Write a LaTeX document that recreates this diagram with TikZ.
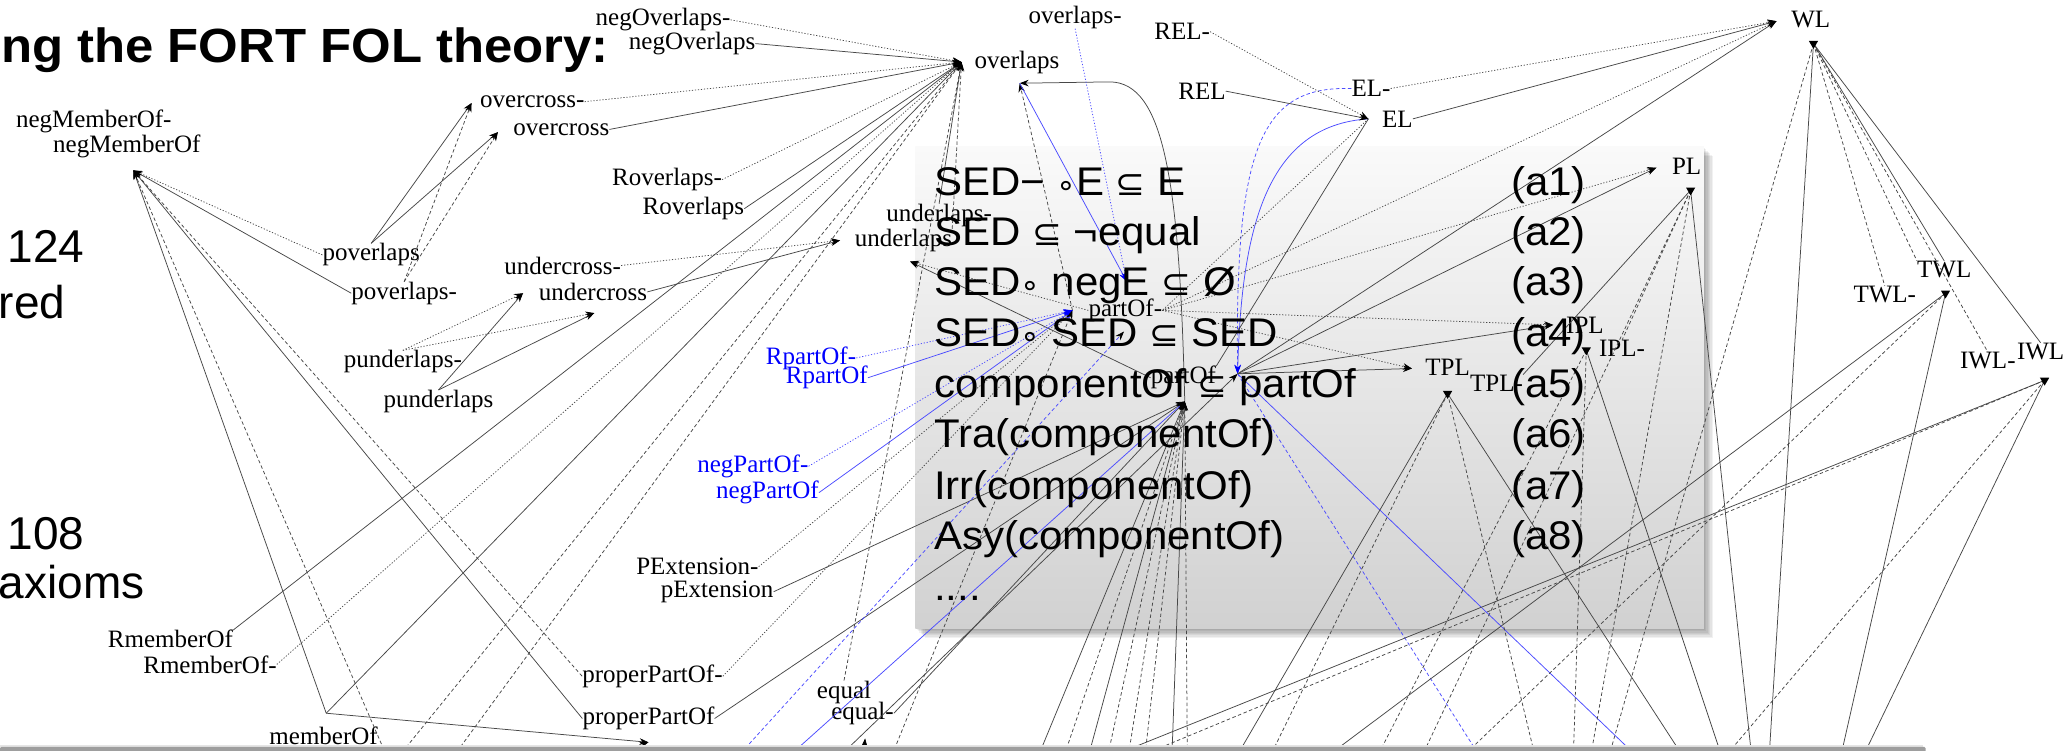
\documentclass[tikz,border=0pt]{standalone}
\usepackage{fontspec}
\setmainfont{Liberation Serif}
\newfontfamily\slidesans{Liberation Sans}
\newfontfamily\symsans{DejaVu Sans}
\usepackage{graphicx}
\usetikzlibrary{arrows.meta}

\newcommand\glabelsize{\fontsize{25}{27}\selectfont}
\newcommand\boxsize{\slidesans\fontsize{40}{44}\selectfont}
\newcommand\hstretch[2]{\scalebox{#1}[1]{#2}}
\newcommand\rel{{\symsans\fontsize{34}{40}\selectfont ⊆}}
\newcommand\comp{{\symsans\fontsize{30}{40}\selectfont ∘}}

\tikzset{
  lbl/.style={font=\glabelsize, inner sep=0pt, text=black},
  blbl/.style={lbl, text=blue},
  lnS/.style={draw=black!72, line width=0.75pt},
  lnD/.style={lnS, dash pattern=on 3.5pt off 2.5pt},
  lnT/.style={lnS, dash pattern=on 1.2pt off 1.8pt},
  blS/.style={draw=blue!70, line width=0.75pt},
  blD/.style={blS, dash pattern=on 3.5pt off 2.5pt},
  blT/.style={blS, dash pattern=on 1.2pt off 1.8pt},
  arr/.style={-{Stealth[length=9pt,width=6.5pt,color=black]}},
  barr/.style={-{Stealth[length=9pt,width=6.5pt,color=blue]}},
  axiom/.style={font=\boxsize, inner sep=0pt, anchor=base west},
  slidetext/.style={font=\slidesans\fontsize{46}{50}\selectfont, inner sep=0pt},
}

\begin{document}
\begin{tikzpicture}[x=1.3208pt, y=-1.3208pt]
\useasboundingbox (0,0) rectangle (1568,568);
\fill[white] (0,0) rectangle (1568,568);

% ---------- axiom panel (background, soft shadow) ----------
\foreach \d in {1,...,7}
  \fill[black, opacity=0.055] (693+\d,111+\d) rectangle (1290+\d,476+\d);
\shade[top color=black!2, middle color=black!6, bottom color=black!18] (693,111) rectangle (1290,476);

% ---------- slide text ----------
\node[font=\slidesans\bfseries\fontsize{48}{50}\selectfont, anchor=base east, inner sep=0pt]
  (title) at (461,47) {\hstretch{1.06}{ng the FORT FOL theory:}};
\node[slidetext, anchor=base east] (n124) at (64,199) {124};
\node[slidetext, anchor=base west] (nred) at (-1,241) {red};
\node[slidetext, anchor=base east] (n108) at (64,416) {108};
\node[slidetext, anchor=base west] (naxioms) at (-1,453) {axioms};

% ---------- graph: arrow tips / junction points ----------
\coordinate (nMO)  at (101,129);
\coordinate (MOv)  at (247,540);
\coordinate (ppO)  at (491,562);
\coordinate (OV)   at (728,47);
\coordinate (OV2)  at (772,63);
\coordinate (B1)   at (853,213);
\coordinate (POm)  at (812,235);
\coordinate (POv)  at (897,304);
\coordinate (CO)   at (937,283);
\coordinate (SEDa) at (851,251);
\coordinate (ULa)  at (636,182);
\coordinate (ULb)  at (689,198);
\coordinate (OCa)  at (357,78);
\coordinate (OCb)  at (377,100);
\coordinate (UCa)  at (396,222);
\coordinate (UCb)  at (450,237);
\coordinate (EQa)  at (655,559);
\coordinate (ELa)  at (1036,90);
\coordinate (WLa)  at (1345,16);
\coordinate (WLv)  at (1373,33);
\coordinate (PLa)  at (1254,127);
\coordinate (PLv)  at (1280,144);
\coordinate (IPLa) at (1176,246);
\coordinate (IPLv) at (1201,265);
\coordinate (TPLa) at (1069,279);
\coordinate (TPLv) at (1096,298);
\coordinate (TWLv) at (1473,222);
\coordinate (IWLv) at (1548,288);
\coordinate (bpp)  at (452,574);
\coordinate (beq)  at (653,582);

% ---------- graph: relation labels ----------
\node[lbl] (negOverlapsM) at (502,15) {negOverlaps-};
\node[lbl] (negOverlaps) at (524,33) {negOverlaps};
\node[lbl] (overcrossM) at (403,77) {overcross-};
\node[lbl] (overcross) at (425,98) {overcross};
\node[lbl] (negMemberOfM) at (71,92) {negMemberOf-};
\node[lbl] (negMemberOf) at (96,111) {negMemberOf};
\node[lbl] (poverlaps) at (281,193) {poverlaps};
\node[lbl] (poverlapsM) at (306,222) {poverlaps-};
\node[lbl] (punderlapsM) at (305,274) {punderlaps-};
\node[lbl] (punderlaps) at (332,304) {punderlaps};
\node[lbl] (undercrossM) at (426,201) {undercross-};
\node[lbl] (undercross) at (449,221) {undercross};
\node[lbl] (RoverlapsM) at (505,136) {Roverlaps-};
\node[lbl] (Roverlaps) at (525,158) {Roverlaps};
\node[lbl] (underlapsM) at (711,163) {underlaps-};
\node[lbl] (underlaps) at (684,182) {underlaps};
\node[blbl] (RpartOfM) at (614,271) {RpartOf-};
\node[blbl] (RpartOf) at (626,286) {RpartOf};
\node[blbl] (negPartOfM) at (570,353) {negPartOf-};
\node[blbl] (negPartOf) at (581,373) {negPartOf};
\node[lbl] (PExtensionM) at (528,429) {PExtension-};
\node[lbl] (pExtension) at (543,448) {pExtension};
\node[lbl] (properPartOfM) at (494,512) {properPartOf-};
\node[lbl] (properPartOf) at (491,544) {properPartOf};
\node[lbl] (equal) at (639,524) {equal};
\node[lbl] (equalM) at (653,540) {equal-};
\node[lbl] (memberOf) at (245,557) {memberOf};
\node[lbl] (RmemberOf) at (129,484) {RmemberOf};
\node[lbl] (RmemberOfM) at (159,503) {RmemberOf-};
\node[lbl] (overlaps) at (770,47) {overlaps};
\node[lbl] (overlapsM) at (814,13) {overlaps-};
\node[lbl] (RELM) at (895,24) {REL-};
\node[lbl] (REL) at (910,69) {REL};
\node[lbl] (ELM) at (1038,67) {EL-};
\node[lbl] (EL) at (1058,90) {EL};
\node[lbl] (WL) at (1371,15) {WL};
\node[lbl] (PL) at (1277,126) {PL};
\node[lbl] (IPL) at (1200,246) {IPL};
\node[lbl] (IPLM) at (1228,264) {IPL-};
\node[lbl] (TPL) at (1096,278) {TPL};
\node[lbl] (TPLM) at (1133,290) {TPL-};
\node[lbl] (TWL) at (1472,204) {TWL};
\node[lbl] (TWLM) at (1427,223) {TWL-};
\node[lbl] (IWLM) at (1505,273) {IWL-};
\node[lbl] (IWL) at (1545,266) {IWL};
\node[lbl] (partOfM) at (852,235) {partOf-};
\node[lbl] (partOf) at (896,286) {partOf};

% ---------- edges into overlaps ----------
\draw[lnT,arr] (negOverlapsM.east) -- (OV);
\draw[lnS,arr] (negOverlaps.east) -- (OV);
\draw[lnT,arr] (overcrossM.east) -- (OV);
\draw[lnS,arr] (overcross.east) -- (OV);
\draw[lnT,arr] (RoverlapsM.east) -- (OV);
\draw[lnS,arr] (Roverlaps.east) -- (OV);
\draw[lnS,arr] (RmemberOf.north east) -- (OV);
\draw[lnT,arr] (RmemberOfM.east) -- (OV);
\draw[lnS,arr] (MOv) -- (OV);
\draw[lnS,arr] (underlapsM.north) -- (OV);
\draw[lnD,arr] (underlaps.north east) -- (OV);
\draw[lnD,arr] (equal.north) -- (OV);

% ---------- edges into negMemberOf ----------
\draw[lnT,arr] (poverlaps.west) -- (nMO);
\draw[lnS,arr] (poverlapsM.west) -- (nMO);
\draw[lnS,arr] (MOv) -- (nMO);
\draw[lnS,arr] (properPartOf.west) -- (nMO);
\draw[lnD,arr] (properPartOfM.west) -- (nMO);

% ---------- overcross / undercross / underlaps ----------
\draw[lnS,arr] (poverlaps.north) -- (OCa);
\draw[lnS,arr] (poverlaps.north) -- (OCb);
\draw[lnD,arr] (poverlapsM.north) -- (OCa);
\draw[lnD,arr] (poverlapsM.north) -- (OCb);
\draw[lnS,arr] (punderlaps.north) -- (UCa);
\draw[lnS,arr] (punderlaps.north) -- (UCb);
\draw[lnT,arr] (punderlapsM.north) -- (UCa);
\draw[lnT,arr] (punderlapsM.north) -- (UCb);
\draw[lnT,arr] (undercrossM.east) -- (ULa);
\draw[lnS,arr] (undercross.east) -- (ULa);
\draw[lnS,arr] (partOf.west) -- (ULb);
\draw[lnT,arr] (partOfM.west) -- (ULb);

% ---------- memberOf / properPartOf / equal ----------
\draw[lnS,arr] (MOv) -- (ppO);
\draw[lnT,arr] (bpp) -- (ppO);
\draw[lnS,arr] (beq) -- (EQa);

% ---------- overlaps (second tip) and its blue neighbour ----------
\draw[lnS,arr] (POv) .. controls (893,140) and (882,62) .. (840,62) -- (OV2);
\draw[lnD,arr] (POm) -- (OV2);
\draw[blS,barr] (OV2) -- (B1);
\draw[blT,barr] (overlapsM.south) -- (B1);

% ---------- into partOf- ----------
\draw[blT,barr] (RpartOfM.east) -- (POm);
\draw[blS,barr] (RpartOf.east) -- (POm);
\draw[blT,barr] (negPartOfM.east) -- (POm);
\draw[blS,barr] (negPartOf.east) -- (POm);
\draw[lnT,barr] (PExtensionM.east) -- (POm);
\draw[lnT,barr] (properPartOfM.east) -- (POm);

% ---------- into partOf ----------
\draw[lnS,arr] (pExtension.east) -- (POv);
\draw[lnS,arr] (properPartOf.east) -- (POv);
\draw[lnS,arr] (equalM.east) -- (POv);

% ---------- lines running in from below the frame ----------
\foreach \x/\s/\t in {296/lnD/nMO, 338/lnD/OV, 296/lnD/OV,
    552/blD/SEDa, 589/blS/POv, 628/lnS/CO, 672/lnD/POm,
    783/lnS/POv, 803/lnD/POv, 822/lnS/POv, 837/lnD/POv,
    853/lnD/POv, 866/lnD/POv, 887/lnS/POv, 899/lnD/POv}{
  \coordinate (b\x) at (\x,580);
  \draw[\s,arr] (b\x) -- (\t);
}

% ---------- EL / componentOf region ----------
\draw[blS,barr] (ELa) .. controls (960,95) and (940,170) .. (CO);
\draw[blD,barr] (ELM.west) .. controls (955,65) and (935,110) .. (CO);
\draw[lnT,arr] (RELM.east) -- (ELa);
\draw[lnS,arr] (REL.east) -- (ELa);
\draw[lnS] (ELa) -- (partOf.north east);
\draw[lnT] (ELa) -- (partOfM.east);
\coordinate (b1125) at (1125,580);
\coordinate (b1247) at (1247,580);
\draw[blD] (CO) -- (b1125);
\draw[blS] (CO) -- (b1247);

% ---------- edges into WL, PL, IPL, TPL ----------
\draw[lnS,arr] (CO) -- (TPLa);
\draw[lnS,arr] (CO) -- (IPLa);
\draw[lnS,arr] (CO) -- (PLa);
\draw[lnS,arr] (CO) -- (WLa);
\draw[lnT,arr] (partOfM.east) -- (WLa);
\draw[lnT,arr] (partOfM.east) -- (PLa);
\draw[lnT,arr] (partOfM.east) -- (IPLa);
\draw[lnT,arr] (partOfM.east) -- (TPLa);
\draw[lnT,arr] (ELM.east) -- (WLa);
\draw[lnS,arr] (EL.east) -- (WLa);

% ---------- fans below the location nodes ----------
\draw[lnD] (WLv) -- (TWLM.north);
\draw[lnS] (WLv) -- (TWL.north);
\draw[lnD] (WLv) -- (TWL.north west);
\draw[lnD] (WLv) -- (IWLM.north);
\draw[lnS] (WLv) -- (IWL.north);
\draw[lnS] (PLv) -- (TPLM.north east);
\draw[lnD] (PLv) -- (IPLM.north);
\foreach \x/\s/\f in {1216/lnD/WLv, 1339/lnS/WLv,
    1203/lnD/PLv, 1327/lnS/PLv, 1073/lnD/PLv,
    1191/lnD/IPLv, 1306/lnS/IPLv, 1039/lnD/IPLv,
    932/lnS/TPLv, 958/lnD/TPLv, 1164/lnD/TPLv, 1279/lnS/TPLv,
    995/lnS/TWLv, 1100/lnD/TWLv, 1392/lnS/TWLv,
    1407/lnS/IWLv, 1300/lnD/IWLv, 823/lnS/IWLv, 845/lnD/IWLv}{
  \coordinate (e\x) at (\x,580);
  \draw[\s] (\f) -- (e\x);
}
\foreach \v in {WLv,PLv,IPLv,TPLv,TWLv,IWLv}
  \fill[black] (\v) ++(-3.5,-2) -- ++(7,0) -- ++(-3.5,6) -- cycle;

% ---------- axioms ----------
\node[axiom] (ax1) at (707,148) {\hstretch{1.05}{SED− \comp E \rel\ E}};
\node[axiom] (ax2) at (707,186) {\hstretch{1.05}{SED \rel\ ¬equal}};
\node[axiom] (ax3) at (707,224) {\hstretch{1.05}{SED\comp\ negE \rel\ Ø}};
\node[axiom] (ax4) at (707,262) {\hstretch{1.05}{SED\comp\ SED \rel\ SED}};
\node[axiom] (ax5) at (707,301) {\hstretch{1.05}{componentOf \rel\ partOf}};
\node[axiom] (ax6) at (707,339) {\hstretch{1.05}{Tra(componentOf)}};
\node[axiom] (ax7) at (707,378) {\hstretch{1.05}{Irr(componentOf)}};
\node[axiom] (ax8) at (707,416) {\hstretch{1.05}{Asy(componentOf)}};
\node[axiom] (ax9) at (707,455) {\hstretch{1.05}{....}};
\foreach \i/\y in {1/148,2/186,3/224,4/262,5/301,6/339,7/378,8/416}
  \node[axiom] (tag\i) at (1144,\y) {\hstretch{1.05}{(a\i)}};

% ---------- bottom edge ----------
\fill[black!10] (0,564) rectangle (1456,566);
\fill[black!38, rounded corners=1.5pt] (0,565.5) rectangle (1458,570);
\end{tikzpicture}
\end{document}
